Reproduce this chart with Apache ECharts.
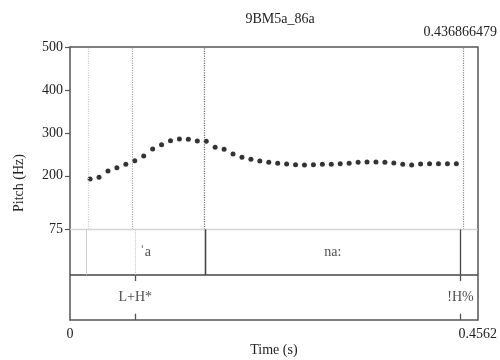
<!DOCTYPE html>
<html>
<head>
<meta charset="utf-8">
<script src="https://cdn.jsdelivr.net/npm/echarts@6/dist/echarts.min.js"></script>
<style>
  html, body { margin: 0; padding: 0; background: #fff; }
  #chart { width: 500px; height: 360px; }
</style>
</head>
<body>
<div id="chart"></div>
<script>
// pitch track (s, Hz)
const times = [0.0225, 0.0325, 0.0425, 0.0525, 0.0625, 0.0725, 0.0825, 0.0925, 0.1025, 0.1125,
  0.1225, 0.1325, 0.1425, 0.1525, 0.1625, 0.1725, 0.1825, 0.1925, 0.2025, 0.2125,
  0.2225, 0.2325, 0.2425, 0.2525, 0.2625, 0.2725, 0.2825, 0.2925, 0.3025, 0.3125,
  0.3225, 0.3325, 0.3425, 0.3525, 0.3625, 0.3725, 0.3825, 0.3925, 0.4025, 0.4125,
  0.4225, 0.4325]
const pitchHz = [192.6, 196.6, 211.2, 218.9, 226.8, 235.2, 246.2, 262.5, 272.5, 281.8,
  285.7, 285, 281.1, 280.4, 266.4, 261.8, 250.8, 243.1, 238.5, 234.5,
  231.5, 229.2, 227.5, 225.9, 225.2, 225.9, 226.8, 226.8, 228.2, 229.2,
  231.5, 232.2, 232.2, 231.5, 229.9, 226.8, 225.2, 227.5, 228.2, 228.2,
  228.2, 228.2]
const yTicks = [75, 200, 300, 400, 500]
const tMax = 0.4562
const cursorTime = 0.436866479

// textgrid
const tier1Start = [0.0187, 0.151]
const tier1End = [0.151, 0.436866479]
const tier1Text = ['{m|ˈ}a', 'na:']
const tier2Time = [0.073, 0.436866479]
const tier2Text = ['L+H*', '!H%']
const guideTimes = [0.0187, 0.073, 0.151, 0.436866479]
const guideColors = ['#d0d0d0', '#a8a8a8', '#707070', '#8a8a8a']

const font = 'Liberation Serif'
const frame = { color: '#555', width: 1.5 }

const chart = echarts.init(document.getElementById('chart'))

const tier1Lines = []
tier1Start.concat(tier1End).forEach(t => {
  const light = t < 0.05
  tier1Lines.push([
    { coord: [t, 1], lineStyle: { color: light ? '#cfcfcf' : '#444', type: 'solid', width: light ? 1 : 1.3 } },
    { coord: [t, 2] }
  ])
})
// dotted guide of the L+H* point through tier 1
tier1Lines.push([{ coord: [tier2Time[0], 1], lineStyle: { color: '#c8c8c8', type: 'dotted', width: 1 } }, { coord: [tier2Time[0], 2] }])

const tier2Ticks = []
tier2Time.forEach(t => {
  tier2Ticks.push([{ coord: [t, 1] }, { coord: [t, 0.86] }])
  tier2Ticks.push([{ coord: [t, 0.14] }, { coord: [t, 0] }])
})

const labelStyle = {
  fontFamily: font, fontSize: 14, color: '#222',
  rich: { m: { fontFamily: 'DejaVu Sans', fontSize: 11, color: '#222', padding: [0, 1, 4, 0] } }
}

const option = {
  animation: false,
  title: {
    text: '9BM5a_86a',
    left: 275,
    top: 7,
    textAlign: 'center',
    textStyle: { fontFamily: font, fontSize: 14, fontWeight: 'normal', color: '#222' }
  },
  graphic: [{
    type: 'text',
    x: 19,
    y: 183,
    rotation: Math.PI / 2,
    style: { text: 'Pitch (Hz)', font: '14px "Liberation Serif"', fill: '#222', align: 'center', verticalAlign: 'middle' }
  }],
  grid: [
    { left: 70, right: 22, top: 47, height: 182.5 },
    { left: 70, right: 22, top: 229.5, bottom: 40 }
  ],
  xAxis: [
    {
      gridIndex: 0, type: 'value', min: 0, max: tMax, position: 'top',
      axisLine: { show: true, lineStyle: frame },
      axisTick: { show: false },
      splitLine: { show: false },
      axisLabel: {
        customValues: [cursorTime], margin: 8,
        formatter: () => String(cursorTime),
        fontFamily: font, fontSize: 14, color: '#222'
      }
    },
    {
      gridIndex: 1, type: 'value', min: 0, max: tMax, position: 'bottom',
      axisLine: { show: true, lineStyle: frame },
      axisTick: { show: false },
      splitLine: { show: false },
      axisLabel: {
        customValues: [0, tMax], margin: 7,
        formatter: v => String(v),
        fontFamily: font, fontSize: 14, color: '#222'
      },
      name: 'Time (s)', nameLocation: 'middle', nameGap: 23,
      nameTextStyle: { fontFamily: font, fontSize: 14, color: '#222' }
    }
  ],
  yAxis: [
    {
      gridIndex: 0, type: 'value', min: 75, max: 500,
      axisLine: { show: true, lineStyle: frame },
      axisTick: { show: true, inside: false, customValues: yTicks, length: 5, lineStyle: { color: '#555', width: 1.2 } },
      axisLabel: { customValues: yTicks, margin: 7, fontFamily: font, fontSize: 14, color: '#222' },
      splitLine: { show: false }
    },
    {
      gridIndex: 0, type: 'value', min: 75, max: 500, position: 'right',
      axisLine: { show: true, lineStyle: frame },
      axisTick: { show: false }, axisLabel: { show: false }, splitLine: { show: false }
    },
    {
      gridIndex: 1, type: 'value', min: 0, max: 2,
      axisLine: { show: true, lineStyle: frame },
      axisTick: { show: false }, axisLabel: { show: false }, splitLine: { show: false }
    },
    {
      gridIndex: 1, type: 'value', min: 0, max: 2, position: 'right',
      axisLine: { show: true, lineStyle: frame },
      axisTick: { show: false }, axisLabel: { show: false }, splitLine: { show: false }
    }
  ],
  series: [
    {
      name: 'pitch',
      type: 'scatter',
      xAxisIndex: 0, yAxisIndex: 0,
      symbolSize: 5,
      itemStyle: { color: '#000' },
      data: times.map((t, i) => [t, pitchHz[i]]),
      markLine: {
        silent: true, symbol: 'none', label: { show: false },
        data: guideTimes.map((t, i) => ({ xAxis: t, lineStyle: { color: guideColors[i], type: 'dotted', width: 1.2 } }))
      }
    },
    {
      name: 'tier1',
      type: 'scatter',
      xAxisIndex: 1, yAxisIndex: 2,
      symbolSize: 0,
      data: tier1Text.map((s, i) => ({ value: [(tier1Start[i] + tier1End[i]) / 2, 1.5], name: s })),
      label: Object.assign({ show: true, position: 'inside', formatter: p => p.name }, labelStyle),
      markLine: {
        silent: true, symbol: 'none', label: { show: false },
        data: [
          { yAxis: 2, lineStyle: { color: '#d4d4d4', type: 'solid', width: 1.3 } },
          { yAxis: 1, lineStyle: { color: '#444', type: 'solid', width: 1.5 } }
        ].concat(tier1Lines)
      }
    },
    {
      name: 'tier2',
      type: 'scatter',
      xAxisIndex: 1, yAxisIndex: 2,
      symbolSize: 0,
      data: tier2Text.map((s, i) => ({ value: [tier2Time[i], 0.5], name: s })),
      label: Object.assign({ show: true, position: 'inside', formatter: p => p.name }, labelStyle),
      markLine: {
        silent: true, symbol: 'none', label: { show: false },
        lineStyle: { color: '#555', type: 'solid', width: 1.3 },
        data: tier2Ticks
      }
    }
  ]
}

chart.setOption(option)
window.addEventListener('resize', () => {
  chart.resize()
})
</script>
</body>
</html>
